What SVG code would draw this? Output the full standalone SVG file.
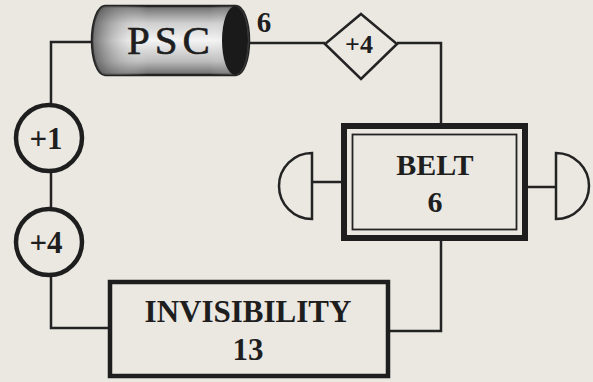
<svg xmlns="http://www.w3.org/2000/svg" width="593" height="382" viewBox="0 0 593 382">
<defs>
<linearGradient id="cylV" x1="0" y1="0" x2="0" y2="1">
<stop offset="0" stop-color="#6a6a6a"/>
<stop offset="0.25" stop-color="#cfcfcf"/>
<stop offset="0.5" stop-color="#f4f4f4"/>
<stop offset="0.8" stop-color="#bdbdbd"/>
<stop offset="1" stop-color="#6a6a6a"/>
</linearGradient>
<linearGradient id="cylH" x1="0" y1="0" x2="1" y2="0">
<stop offset="0" stop-color="#333" stop-opacity="0.7"/>
<stop offset="0.35" stop-color="#fff" stop-opacity="0"/>
<stop offset="0.75" stop-color="#fff" stop-opacity="0"/>
<stop offset="1" stop-color="#555" stop-opacity="0.4"/>
</linearGradient>
</defs>
<style>
.ln{fill:none;stroke:#232323;stroke-width:2.5}
.t{font-family:"Liberation Serif",serif;fill:#1e1e1e;text-anchor:middle}
.b{font-weight:bold}
</style>
<rect width="593" height="382" fill="#ebe8e2"/>
<g id="connectors">
<polyline class="ln" points="92,42 51,42 51,104"/>
<line class="ln" x1="51" y1="172" x2="51" y2="208"/>
<polyline class="ln" points="51,276 51,328 108,328"/>
<polyline class="ln" points="248,43 325,43"/>
<polyline class="ln" points="397,43 441,43 441,123"/>
<polyline class="ln" points="441,241 441,331 390,331"/>
<line class="ln" x1="312" y1="182" x2="341" y2="182"/>
<line class="ln" x1="528" y1="187" x2="556" y2="187"/>
</g>
<g id="psc">
<path d="M105,6 H236 A13,34.5 0 0 1 236,75 H105 A13,34.5 0 0 1 105,6 Z" fill="url(#cylV)" stroke="#232323" stroke-width="2.5"/>
<path d="M105,6 H236 A13,34.5 0 0 1 236,75 H105 A13,34.5 0 0 1 105,6 Z" fill="url(#cylH)"/>
<ellipse cx="235" cy="40.5" rx="13" ry="34.5" fill="#1a1a1a"/>
<text class="t" x="171" y="54" font-size="41" letter-spacing="5" stroke="#1e1e1e" stroke-width="0.6">PSC</text>
<text class="t b" x="264" y="32" font-size="29">6</text>
</g>
<g id="diamond">
<polygon points="361,14 397,44 361,79 325,44" fill="#ebe8e2" stroke="#232323" stroke-width="2.5"/>
<text class="t b" x="359" y="53" font-size="26">+4</text>
</g>
<g id="c1">
<circle cx="49" cy="138" r="33" fill="#ebe8e2" stroke="#1e1e1e" stroke-width="4.5"/>
<text class="t b" x="46" y="149" font-size="31">+1</text>
</g>
<g id="c4">
<circle cx="49" cy="242" r="33" fill="#ebe8e2" stroke="#1e1e1e" stroke-width="4.5"/>
<text class="t b" x="46" y="253" font-size="31">+4</text>
</g>
<g id="belt">
<rect x="344" y="126" width="181" height="112" fill="#ebe8e2" stroke="#1e1e1e" stroke-width="6"/>
<rect x="352.5" y="134.5" width="164" height="95" fill="none" stroke="#232323" stroke-width="1.8"/>
<text class="t b" x="435" y="175" font-size="30">BELT</text>
<text class="t b" x="435" y="212" font-size="30">6</text>
</g>
<g id="leftcap">
<path d="M312,153 A33,33 0 0 0 312,219 Z" fill="#ebe8e2" stroke="#232323" stroke-width="2.5"/>
</g>
<g id="rightcap">
<path d="M556,153 A33,33 0 0 1 556,219 Z" fill="#ebe8e2" stroke="#232323" stroke-width="2.5"/>
</g>
<g id="invisibility">
<rect x="110" y="282" width="278" height="94" fill="#ebe8e2" stroke="#1e1e1e" stroke-width="4.5"/>
<text class="t b" x="248" y="322" font-size="31">INVISIBILITY</text>
<text class="t b" x="248" y="360" font-size="31">13</text>
</g>
</svg>
